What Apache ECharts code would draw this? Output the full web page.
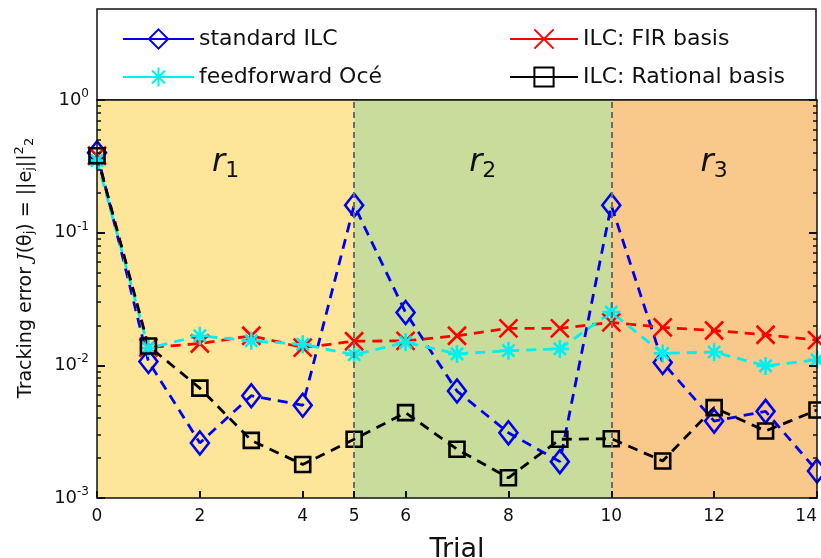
<!DOCTYPE html>
<html><head><meta charset="utf-8">
<script src="https://cdn.jsdelivr.net/npm/echarts@6/dist/echarts.min.js"></script>
<style>html,body{margin:0;padding:0;background:#fff}#c{width:821px;height:558px}</style>
</head><body><div id="c"></div>
<script>
const trials = [0,1,2,3,4,5,6,7,8,9,10,11,12,13,14];
const standardILC = [0.40,0.0107,0.0026,0.0059,0.0050,0.161,0.025,0.0064,0.0031,0.00188,0.161,0.0105,0.0038,0.0045,0.0016];
const firBasis    = [0.38,0.0136,0.0146,0.0167,0.0136,0.0152,0.0153,0.0167,0.0190,0.0190,0.0211,0.0193,0.0183,0.0170,0.0155];
const feedforwardOce = [0.35,0.0135,0.0167,0.0153,0.0144,0.0120,0.0149,0.0122,0.0129,0.0133,0.0252,0.0123,0.0126,0.0099,0.0110];
const rationalBasis  = [0.38,0.0140,0.00673,0.00272,0.00179,0.00277,0.0044,0.00233,0.00142,0.00277,0.0028,0.0019,0.0048,0.0032,0.0046];
const xTicks = [0,2,4,5,6,8,10,12,14];
const regions = [[0,5,'1'],[5,10,'2'],[10,14,'3']];
const regionColors = ['#FDE59A','#C8DD9C','#F9C88B'];

const FONT = 'DejaVu Sans';
const pair = a => a.map((v,i)=>[trials[i],v]);
const ptsX = 'path://M0,0L10,10M10,0L0,10';
const ptsStar = 'path://M5,0L5,10M0,5L10,5M1.6,1.6L8.4,8.4M8.4,1.6L1.6,8.4';

function mk(name, data, color, symbol, size) {
  return {
    name, type:'line', data: pair(data), symbol, symbolSize: size,
    lineStyle:{color, width:2.8, type:[10,7]},
    itemStyle:{color:'rgba(0,0,0,0)', borderColor:color, borderWidth:2.6},
    emphasis:{disabled:true}, animation:false, z:3
  };
}

const bg = {
  name:'bg', type:'line', data:[], silent:true, z:1,
  markArea:{silent:true, data: regions.map((r,i)=>[{xAxis:r[0], itemStyle:{color:regionColors[i]},
      label:{show:true, position:'insideTop', distance:44, formatter:'{r|r}{s|'+r[2]+'}',
        rich:{r:{fontFamily:FONT,fontStyle:'italic',fontSize:32,color:'#111'},
              s:{fontFamily:FONT,fontSize:22,color:'#111',padding:[16,0,0,0]}}}},{xAxis:r[1]}])},
  markLine:{silent:true, symbol:'none', label:{show:false},
    lineStyle:{color:'#6b6b6b', type:[6,4], width:2},
    data:[{xAxis:5},{xAxis:10}]}
};

const chart = echarts.init(document.getElementById('c'));
const supLabel = v => { const e = Math.round(Math.log10(v)); return '{b|10}{s|'+e+'}'; };
const richTick = {b:{fontFamily:FONT,fontSize:18,color:'#111'}, s:{fontFamily:FONT,fontSize:12,color:'#111',padding:[0,0,12,0]}};
const legendText = {fontFamily:FONT,fontSize:22,color:'#111'};
const axLine = {show:true,onZero:false,lineStyle:{color:'#111',width:1.5}};

chart.setOption({
  animation:false,
  backgroundColor:'#fff',
  grid:{left:97, right:4, top:100, bottom:60, outerBoundsMode:'none', containLabel:false},
  xAxis:[{type:'value', min:0, max:14, position:'bottom', z:10,
    axisLine:axLine,
    axisTick:{show:true, inside:true, length:7, customValues:xTicks, lineStyle:{color:'#111',width:2}},
    axisLabel:{customValues:xTicks, fontFamily:FONT, fontSize:17, color:'#111', margin:10, alignMaxLabel:'right'},
    splitLine:{show:false},
    name:'Trial', nameLocation:'middle', nameGap:38, nameTextStyle:{fontFamily:FONT,fontSize:27,color:'#111'}},
   {type:'value', min:0, max:14, position:'top', z:10,
    axisLine:axLine, axisTick:{show:false}, axisLabel:{show:false}, splitLine:{show:false}}],
  yAxis:[{type:'log', logBase:10, min:0.001, max:1, position:'left', z:10,
    axisLine:axLine,
    axisTick:{show:true, inside:true, length:8, lineStyle:{color:'#111',width:2}},
    minorTick:{show:true, splitNumber:9, length:4, lineStyle:{color:'#111',width:1.5}},
    axisLabel:{formatter:supLabel, rich:richTick, margin:8},
    splitLine:{show:false}},
   {type:'log', logBase:10, min:0.001, max:1, position:'right', z:10,
    axisLine:axLine,
    axisTick:{show:true, inside:true, length:8, lineStyle:{color:'#111',width:2}},
    minorTick:{show:true, splitNumber:9, length:4, lineStyle:{color:'#111',width:1.5}},
    axisLabel:{show:false}, splitLine:{show:false}}],
  legend:[{orient:'vertical', left:117, top:23, itemWidth:71, itemHeight:24, itemGap:16,
     data:['standard ILC','feedforward Océ'], textStyle:legendText, lineStyle:{type:'solid'}},
    {orient:'vertical', left:504, top:23, itemWidth:68, itemHeight:24, itemGap:16,
     data:['ILC: FIR basis','ILC: Rational basis'], textStyle:legendText, lineStyle:{type:'solid'}}],
  graphic:[
    {type:'rect', shape:{x:97,y:9,width:719,height:91}, style:{fill:'none',stroke:'#111',lineWidth:1.5}, z:-1},
    {type:'text', x:26, y:268, rotation:Math.PI/2, style:{
      text:'{n|Tracking error }{i|J}{n|(θ}{sb|j}{n|) = ||e}{sb|j}{n|||}{sp|2}{sb|2}',
      align:'center', verticalAlign:'middle',
      rich:{n:{fontFamily:FONT,fontSize:19,fill:'#111'}, i:{fontFamily:'DejaVu Serif',fontStyle:'italic',fontSize:19,fill:'#111'},
        sb:{fontFamily:FONT,fontSize:13,fill:'#111',padding:[8,0,0,0]}, sp:{fontFamily:FONT,fontSize:13,fill:'#111',padding:[0,0,12,0]}}}}
  ],
  series:[
    bg,
    mk('standard ILC', standardILC, '#0000EE', 'diamond', [18,23]),
    mk('ILC: FIR basis', firBasis, '#FF0000', ptsX, 18),
    mk('feedforward Océ', feedforwardOce, '#00F0F0', ptsStar, 18),
    mk('ILC: Rational basis', rationalBasis, '#000000', 'rect', 15)
  ]
});
</script></body></html>
